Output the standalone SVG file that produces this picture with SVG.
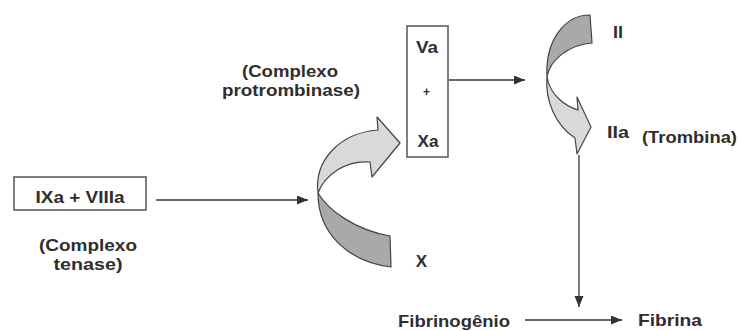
<svg xmlns="http://www.w3.org/2000/svg" width="739" height="331" viewBox="0 0 739 331">
<defs>
<style>
.t{font-family:"Liberation Sans",Arial,sans-serif;font-weight:bold;font-size:17px;fill:#2e2e2e}
.box{fill:#fff;stroke:#555;stroke-width:1.5}
.ln{stroke:#333;stroke-width:1.3;fill:none;marker-end:url(#ah)}
.dark{fill:#a9a9a9;stroke:#444;stroke-width:1.2;stroke-linejoin:round}
.light{fill:#d9d9d9;stroke:#444;stroke-width:1.2;stroke-linejoin:round}
</style>
<marker id="ah" markerUnits="userSpaceOnUse" markerWidth="12" markerHeight="10" refX="11" refY="4.5" orient="auto">
<path d="M0,0 L11,4.5 L0,9 Z" fill="#333"/>
</marker>
</defs>
<rect width="739" height="331" fill="#fff"/>
<g id="connectors">
<line class="ln" x1="156" y1="200" x2="308" y2="200"/>
<line class="ln" x1="449" y1="80" x2="525" y2="80"/>
<line class="ln" x1="579" y1="155" x2="579" y2="307"/>
<line class="ln" x1="525" y1="320" x2="622" y2="320"/>
</g>
<g id="tenase">
<rect class="box" x="14" y="177" width="132" height="33"/>
<text class="t" x="80" y="203" text-anchor="middle" textLength="89" lengthAdjust="spacingAndGlyphs">IXa + VIIIa</text>
<text class="t" x="88" y="251" text-anchor="middle" textLength="98" lengthAdjust="spacingAndGlyphs">(Complexo</text>
<text class="t" x="88" y="270" text-anchor="middle" textLength="69" lengthAdjust="spacingAndGlyphs">tenase)</text>
</g>
<g id="arrowX">
<path class="dark" d="M318,193 C328,210 355,230 390,236 L391,267 C350,262 318,235 318,193 Z"/>
<path class="light" d="M318,193 C314,160 340,133 378,130 L377,117 L400,143 L372,177 L370,162 C345,160 325,175 318,193 Z"/>
<text class="t" x="421.5" y="267" text-anchor="middle">X</text>
</g>
<g id="protrombinase">
<text class="t" x="290" y="77" text-anchor="middle" textLength="96" lengthAdjust="spacingAndGlyphs">(Complexo</text>
<text class="t" x="291" y="96" text-anchor="middle" textLength="138" lengthAdjust="spacingAndGlyphs">protrombinase)</text>
<rect class="box" x="407" y="26" width="41" height="131"/>
<text class="t" x="427" y="53" text-anchor="middle" textLength="22" lengthAdjust="spacingAndGlyphs">Va</text>
<text class="t" x="426.5" y="96" text-anchor="middle" style="font-size:12px">+</text>
<text class="t" x="428" y="147" text-anchor="middle" textLength="21" lengthAdjust="spacingAndGlyphs">Xa</text>
</g>
<g id="arrowII">
<path class="dark" d="M590,15 C565,15 545,40 547,77 C550,60 568,45 592,43 Z"/>
<path class="light" d="M547,77 C545,100 555,125 575,138 L577,154 L591,127 L577,97 L578,110 C565,106 550,95 547,77 Z"/>
<text class="t" x="618" y="38" text-anchor="middle" textLength="10" lengthAdjust="spacingAndGlyphs">II</text>
<text class="t" x="607" y="138" textLength="22" lengthAdjust="spacingAndGlyphs">IIa</text>
<text class="t" x="642" y="143" textLength="95" lengthAdjust="spacingAndGlyphs">(Trombina)</text>
</g>
<g id="fibrinogenio">
<text class="t" x="398" y="327" textLength="112" lengthAdjust="spacingAndGlyphs">Fibrinogênio</text>
</g>
<g id="fibrina">
<text class="t" x="638" y="326" textLength="64" lengthAdjust="spacingAndGlyphs">Fibrina</text>
</g>
</svg>
